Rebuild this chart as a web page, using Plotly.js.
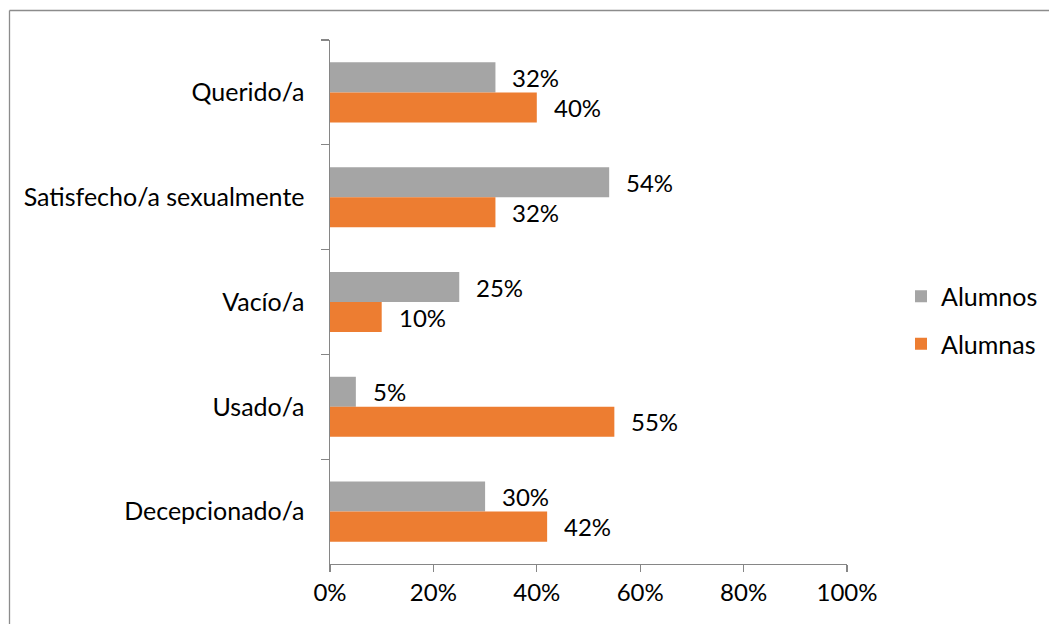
<!DOCTYPE html>
<html>
<head>
<meta charset="utf-8">
<script src="https://cdn.plot.ly/plotly-3.0.1.min.js"></script>
<style>html,body{margin:0;padding:0;background:#fff;}#chart{width:1049px;height:624px;}</style>
</head>
<body>
<div id="chart"></div>
<script>
const categories = ["Querido/a", "Satisfecho/a sexualmente", "Vacío/a", "Usado/a", "Decepcionado/a"];
const alumnos = [32, 54, 25, 5, 30];
const alumnas = [40, 32, 10, 55, 42];
const seriesNames = ["Alumnos", "Alumnas"];
const xTickVals = [0, 20, 40, 60, 80, 100];
const xTickText = ["0%", "20%", "40%", "60%", "80%", "100%"];

const FONT = "Lato, 'Open Sans', sans-serif";

const traces = [
  {type: "bar", orientation: "h", name: seriesNames[0], y: categories, x: alumnos,
   marker: {color: "#A5A5A5"}, legendgroup: "a", hoverinfo: "x+y"},
  {type: "bar", orientation: "h", name: seriesNames[1], y: categories, x: alumnas,
   marker: {color: "#ED7D31"}, legendgroup: "b", hoverinfo: "x+y"}
];

const annotations = [];
[alumnos, alumnas].forEach((vals, s) => {
  vals.forEach((v, i) => {
    annotations.push({
      x: v, y: categories[i], xref: "x", yref: "y",
      text: v + "%", showarrow: false, xanchor: "left",
      xshift: 15, yshift: s === 0 ? 15 : -15,
      font: {family: FONT, size: 24, color: "#000"}
    });
  });
});

const L = 330, R = 847, T = 40, B = 564;
const px = p => (p - L) / (R - L);
const py = p => (B - p) / (B - T);

const layout = {
  width: 1049, height: 624,
  margin: {l: L, r: 1049 - R, t: T, b: 624 - B, pad: 0, autoexpand: false},
  paper_bgcolor: "#fff", plot_bgcolor: "#fff",
  font: {family: FONT, size: 24, color: "#000"},
  barmode: "group", bargap: 0.427, bargroupgap: 0,
  showlegend: true,
  legend: {x: px(901), y: py(320), xanchor: "left", yanchor: "middle",
           traceorder: "grouped", tracegroupgap: 12,
           font: {family: FONT, size: 25, color: "#000"}, bgcolor: "rgba(0,0,0,0)"},
  xaxis: {range: [0, 100], tickvals: xTickVals, ticktext: xTickText, automargin: false,
          showgrid: false, zeroline: false, showline: true, linecolor: "#868686", linewidth: 1.3,
          ticks: "outside", ticklen: 7, tickcolor: "#868686", tickwidth: 1.3,
          tickfont: {family: FONT, size: 24, color: "#000"}, fixedrange: true},
  yaxis: {type: "category", autorange: "reversed", showgrid: false, zeroline: false, automargin: false,
          showline: true, linecolor: "#868686", linewidth: 1.3,
          ticks: "outside", ticklen: 8, tickcolor: "#868686", tickwidth: 1.3, tickson: "boundaries",
          ticksuffix: "   ",
          tickfont: {family: FONT, size: 25, color: "#000"}, fixedrange: true},
  annotations: annotations,
  shapes: [
    {type: "line", xref: "paper", yref: "paper", x0: px(9.5), x1: px(1049), y0: py(10.5), y1: py(10.5),
     line: {color: "#8c8c8c", width: 1.3}},
    {type: "line", xref: "paper", yref: "paper", x0: px(9.5), x1: px(9.5), y0: py(10.5), y1: py(624),
     line: {color: "#8c8c8c", width: 1.3}}
  ]
};

Plotly.newPlot("chart", traces, layout, {displayModeBar: false, staticPlot: true});
</script>
</body>
</html>
